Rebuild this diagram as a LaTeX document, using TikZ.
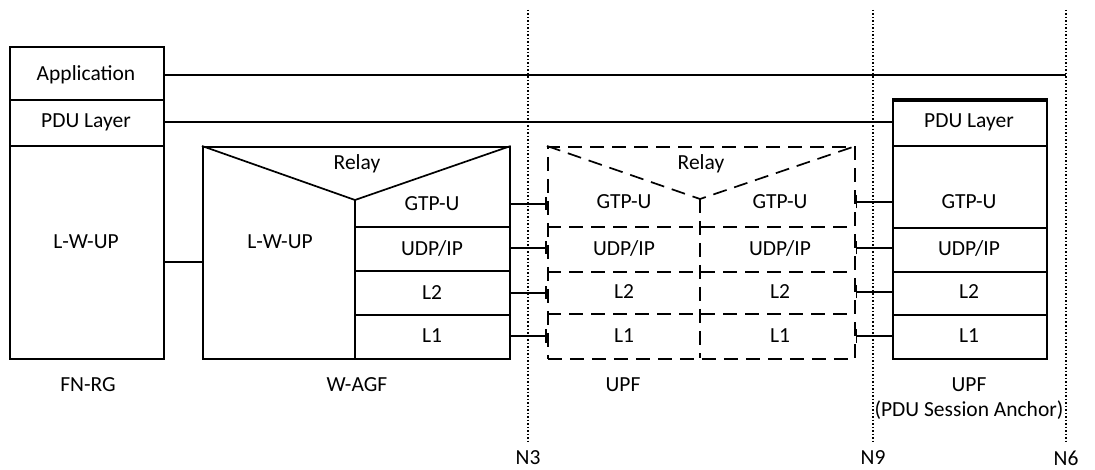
\documentclass[tikz,border=0pt]{standalone}
\usepackage{fontspec}
\setmainfont{Carlito}
\usetikzlibrary{arrows.meta}
\tikzset{
	layertext/.style={font=\fontsize{21.5}{24}\selectfont, inner sep=0pt},
	stackbox/.style={draw, line width=1.7pt, inner sep=0pt, anchor=north west},
	stackline/.style={line width=1.7pt},
	upfline/.style={line width=1.7pt, dash pattern=on 14pt off 8pt},
	refline/.style={line width=1.5pt, dash pattern=on 1.5pt off 2pt},
	link/.style={line width=1.6pt},
	linkbar/.tip={Bar[width=13pt, line width=1.6pt]}
}

\begin{document}
\begin{tikzpicture}[x=1pt, y=-1pt]
			%%%%% START %%%%%
			\useasboundingbox (0,0) rectangle (1095,470);
			
			% FN-RG
			\node[stackbox, minimum width=154pt, minimum height=312pt] (rg) at (9,46) {};
			\draw[stackline] (9,100) -- (163,100);
			\draw[stackline] (9,146) -- (163,146);
			\node[layertext] (rg-app) at (86,75) {Application};
			\node[layertext] (rg-pdu) at (86,122) {PDU Layer};
			\node[layertext] (rg-lwup) at (86,242) {L-W-UP};
			\node[layertext] (rg-name) at (88,385) {FN-RG};
			
			% W-AGF
			\node[stackbox, minimum width=307pt, minimum height=212pt] (wagf) at (202,146) {};
			\draw[stackline] (wagf.north west) -- (355,200) -- (wagf.north east);
			\draw[stackline] (355,200) -- (355,358);
			\draw[stackline] (355,227) -- (509,227);
			\draw[stackline] (355,271) -- (509,271);
			\draw[stackline] (355,315) -- (509,315);
			\node[layertext] (wagf-relay) at (357,164) {Relay};
			\node[layertext] (wagf-lwup) at (280,242) {L-W-UP};
			\node[layertext] (wagf-gtp) at (432,204) {GTP-U};
			\node[layertext] (wagf-udp) at (432,248) {UDP/IP};
			\node[layertext] (wagf-l2) at (432,293) {L2};
			\node[layertext] (wagf-l1) at (432,336) {L1};
			\node[layertext] (wagf-name) at (357,385) {W-AGF};
			
			% UPF
			\node[stackbox, upfline, minimum width=307pt, minimum height=212pt] (upf) at (547,146) {};
			\draw[upfline] (upf.north west) -- (700,199) -- (upf.north east);
			\draw[upfline] (700,199) -- (700,358);
			\draw[upfline] (547,227) -- (854,227);
			\draw[upfline] (547,272) -- (854,272);
			\draw[upfline] (547,314) -- (854,314);
			\node[layertext] (upf-relay) at (701,164) {Relay};
			\node[layertext] (upf-gtp-a) at (624,202) {GTP-U};
			\node[layertext] (upf-gtp-b) at (780,202) {GTP-U};
			\node[layertext] (upf-udp-a) at (624,248) {UDP/IP};
			\node[layertext] (upf-udp-b) at (780,248) {UDP/IP};
			\node[layertext] (upf-l2-a) at (624,292) {L2};
			\node[layertext] (upf-l2-b) at (780,292) {L2};
			\node[layertext] (upf-l1-a) at (624,336) {L1};
			\node[layertext] (upf-l1-b) at (780,336) {L1};
			\node[layertext] (upf-name) at (623,385) {UPF};
			
			% UPF (PSA)
			\node[stackbox, minimum width=154pt, minimum height=258pt] (psa) at (892,100) {};
			\draw[line width=3pt] (psa.north west) -- (psa.north east);
			\draw[stackline] (892,146) -- (1046,146);
			\draw[stackline] (892,228) -- (1046,228);
			\draw[stackline] (892,272) -- (1046,272);
			\draw[stackline] (892,315) -- (1046,315);
			\node[layertext] (psa-pdu) at (969,122) {PDU Layer};
			\node[layertext] (psa-gtp) at (969,202) {GTP-U};
			\node[layertext] (psa-udp) at (969,248) {UDP/IP};
			\node[layertext] (psa-l2) at (969,292) {L2};
			\node[layertext] (psa-l1) at (969,336) {L1};
			\node[layertext] (psa-name) at (969,385) {UPF};
			\node[layertext] (psa-note) at (969,410) {(PDU Session Anchor)};
			
			% reference points
			\node[layertext] (n3) at (528,458) {N3};
			\node[layertext] (n9) at (873,458) {N9};
			\node[layertext] (n6) at (1066,458) {N6};
			\draw[refline] (n3 |- 0,10) -- ([yshift=9pt]n3.north);
			\draw[refline] (n9 |- 0,10) -- ([yshift=9pt]n9.north);
			\draw[refline] (n6 |- 0,10) -- ([yshift=9pt]n6.north);
			
			% peer links
			\draw[link] (rg.east |- rg-app) -- (n6 |- rg-app);
			\draw[link] (rg.east |- rg-pdu) -- (psa.west |- rg-pdu);
			\draw[link] ([yshift=-20pt]rg-lwup -| rg.east) -- ([yshift=-20pt]rg-lwup -| wagf.west);
			
			\draw[link, -linkbar] (wagf.east |- wagf-gtp) -- (upf.west |- wagf-gtp);
			\draw[link, -linkbar] (wagf.east |- wagf-udp) -- (upf.west |- wagf-udp);
			\draw[link, -linkbar] (wagf.east |- wagf-l2) -- (upf.west |- wagf-l2);
			\draw[link, -linkbar] (wagf.east |- wagf-l1) -- (upf.west |- wagf-l1);
			
			\draw[link, linkbar-] (upf.east |- upf-gtp-b) -- (psa.west |- upf-gtp-b);
			\draw[link, linkbar-] (upf.east |- upf-udp-b) -- (psa.west |- upf-udp-b);
			\draw[link, linkbar-] (upf.east |- upf-l2-b) -- (psa.west |- upf-l2-b);
			\draw[link, linkbar-] (upf.east |- upf-l1-b) -- (psa.west |- upf-l1-b);
			
			%%%%% END %%%%%
\end{tikzpicture}
\end{document}
